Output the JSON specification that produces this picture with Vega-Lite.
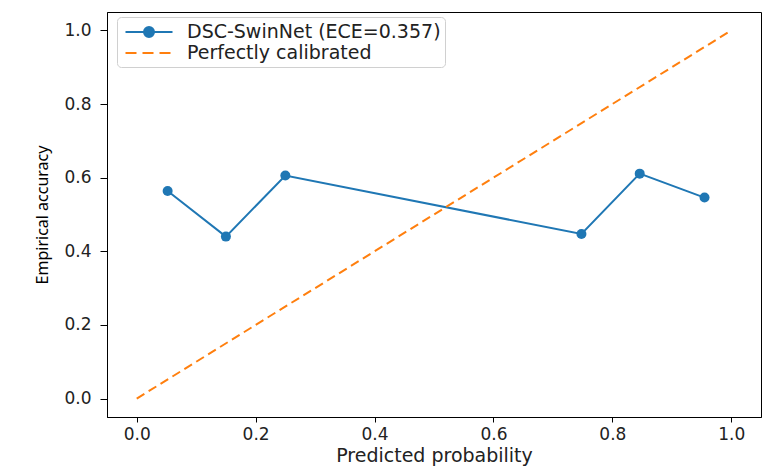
{
  "$schema": "https://vega.github.io/schema/vega-lite/v6.json",
  "autosize": {"type": "none"},
  "width": 654,
  "height": 405,
  "padding": {"left": 107, "top": 12, "right": 3, "bottom": 51},
  "background": "white",
  "config": {
    "view": {"stroke": "black", "strokeWidth": 1},
    "font": "DejaVu Sans",
    "axis": {
      "grid": false,
      "domainColor": "black",
      "domainWidth": 1,
      "tickColor": "black",
      "tickWidth": 1,
      "labelFont": "DejaVu Sans",
      "labelFontSize": 17,
      "labelColor": "#222222",
      "titleFont": "DejaVu Sans",
      "titleFontSize": 19,
      "titleFontWeight": "normal",
      "titleColor": "#222222"
    }
  },
  "datasets": {
    "model": [
      {"p": 0.052, "acc": 0.564, "series": "DSC-SwinNet (ECE=0.357)"},
      {"p": 0.15, "acc": 0.44, "series": "DSC-SwinNet (ECE=0.357)"},
      {"p": 0.25, "acc": 0.606, "series": "DSC-SwinNet (ECE=0.357)"},
      {"p": 0.748, "acc": 0.447, "series": "DSC-SwinNet (ECE=0.357)"},
      {"p": 0.846, "acc": 0.611, "series": "DSC-SwinNet (ECE=0.357)"},
      {"p": 0.955, "acc": 0.546, "series": "DSC-SwinNet (ECE=0.357)"}
    ],
    "diag": [
      {"p": 0, "acc": 0, "series": "Perfectly calibrated"},
      {"p": 1, "acc": 1, "series": "Perfectly calibrated"}
    ]
  },
  "encoding": {
    "x": {
      "field": "p", "type": "quantitative",
      "scale": {"domain": [-0.05, 1.05], "nice": false, "zero": false},
      "axis": {"values": [0, 0.2, 0.4, 0.6, 0.8, 1.0], "format": ".1f", "tickSize": 5, "labelPadding": 4, "title": "Predicted probability", "titlePadding": 4}
    },
    "y": {
      "field": "acc", "type": "quantitative",
      "scale": {"domain": [-0.05, 1.05], "nice": false, "zero": false},
      "axis": {"values": [0, 0.2, 0.4, 0.6, 0.8, 1.0], "format": ".1f", "tickSize": 7, "labelPadding": 9, "title": "Empirical accuracy", "titleFont": "Noto Sans", "titleFontSize": 16, "titleColor": "black", "titlePadding": 13}
    },
    "color": {
      "field": "series", "type": "nominal",
      "scale": {"domain": ["DSC-SwinNet (ECE=0.357)", "Perfectly calibrated"], "range": ["#1f77b4", "#ff7f0e"]},
      "legend": {
        "title": null,
        "orient": "none",
        "legendX": 10,
        "legendY": 5,
        "padding": 4,
        "strokeColor": "#d0d0d0",
        "fillColor": "white",
        "cornerRadius": 4,
        "labelFont": "DejaVu Sans",
        "labelFontSize": 19,
        "labelColor": "#222222",
        "labelLimit": 0,
        "symbolSize": 400,
        "symbolOffset": 17,
        "labelOffset": 27,
        "rowPadding": 0,
        "encode": {
          "symbols": {
            "update": {
              "shape": [
                {"test": "datum.value === 'Perfectly calibrated'", "value": "M-2.35,0L2.35,0"},
                {"value": "M-2.35,0L2.35,0M-0.5,0A0.5,0.5 0 1,1 0.5,0A0.5,0.5 0 1,1 -0.5,0Z"}
              ],
              "fill": [
                {"test": "datum.value === 'Perfectly calibrated'", "value": "transparent"},
                {"value": "#1f77b4"}
              ],
              "stroke": [
                {"test": "datum.value === 'Perfectly calibrated'", "value": "#ff7f0e"},
                {"value": "#1f77b4"}
              ],
              "strokeDash": [
                {"test": "datum.value === 'Perfectly calibrated'", "value": [11, 6]},
                {"value": []}
              ],
              "strokeWidth": {"value": 2},
              "opacity": {"value": 1},
              "size": {"value": 400}
            }
          }
        }
      }
    }
  },
  "layer": [
    {
      "data": {"name": "model"},
      "mark": {"type": "line", "strokeWidth": 2, "point": {"filled": true, "size": 100, "opacity": 1}}
    },
    {
      "data": {"name": "diag"},
      "mark": {"type": "line", "strokeWidth": 2, "strokeDash": [9, 5]}
    }
  ]
}
